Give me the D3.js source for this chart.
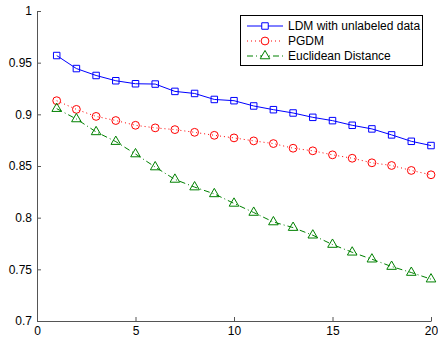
<!DOCTYPE html>
<html>
<head>
<meta charset="utf-8">
<script src="https://cdn.jsdelivr.net/npm/d3@7"></script>
<style>
  body { margin: 0; background: #fff; }
  text { font-family: "Liberation Sans", Arial, sans-serif; font-size: 12px; fill: #000; }
</style>
</head>
<body>
<svg width="438" height="340"></svg>
<script>
// data
const xs = d3.range(1, 21);
const ldm = [0.9569, 0.9443, 0.9376, 0.9325, 0.9296, 0.9293, 0.9222, 0.9202, 0.9144, 0.9132,
             0.9081, 0.9045, 0.9013, 0.8971, 0.8939, 0.8894, 0.8859, 0.8801, 0.8739, 0.8698];
const pgdm = [0.9132, 0.9048, 0.898, 0.894, 0.8894, 0.8869, 0.8852, 0.8826, 0.8797, 0.8772,
              0.8743, 0.8717, 0.8672, 0.8647, 0.8608, 0.8575, 0.8531, 0.8505, 0.8457, 0.8415];
const eucl = [0.9055, 0.8955, 0.883, 0.8736, 0.8616, 0.849, 0.837, 0.8296, 0.823, 0.8138,
              0.805, 0.7958, 0.7904, 0.783, 0.774, 0.7665, 0.7598, 0.7527, 0.7469, 0.7405];
const seriesNames = ['LDM with unlabeled data', 'PGDM', 'Euclidean Distance'];
const xTicks = [0, 5, 10, 15, 20];
const yTicks = [0.7, 0.75, 0.8, 0.85, 0.9, 0.95, 1];

const svg = d3.select('svg');

const x = d3.scaleLinear().domain([0, 20]).range([37, 431]);
const y = d3.scaleLinear().domain([0.7, 1]).range([321, 11]);

// axes: left and bottom only, ticks point inward
const xAxis = svg.append('g')
  .attr('transform', `translate(0,${y(0.7)})`)
  .call(d3.axisBottom(x).tickValues(xTicks).tickFormat(d3.format('d')).tickSizeInner(-4).tickSizeOuter(0));
const yAxis = svg.append('g')
  .attr('transform', `translate(${x(0)},0)`)
  .call(d3.axisLeft(y).tickValues(yTicks).tickFormat(d => String(d)).tickSizeInner(-4).tickSizeOuter(0));

[xAxis, yAxis].forEach(a => {
  a.select('.domain').attr('stroke', '#555').attr('stroke-width', 1);
  a.selectAll('.tick line').attr('stroke', '#555');
  a.selectAll('text').attr('font-family', '"Liberation Sans", Arial, sans-serif').attr('font-size', 12).attr('fill', '#000');
});
xAxis.selectAll('text').attr('y', 5).attr('dy', '0.71em');
yAxis.selectAll('text').attr('x', -5);

const series = [
  { name: seriesNames[0], values: ldm, color: '#0000ff', dash: null, marker: 'square' },
  { name: seriesNames[1], values: pgdm, color: '#ff0000', dash: '1,3', marker: 'circle' },
  { name: seriesNames[2], values: eucl, color: '#008000', dash: '6,3,1,3', marker: 'triangle' }
];

const line = d3.line().x((d, i) => x(xs[i])).y(d => y(d));

const symbolFor = m => m === 'square' ? d3.symbol().type(d3.symbolSquare).size(42)
  : m === 'circle' ? d3.symbol().type(d3.symbolCircle).size(48)
  : d3.symbol().type(d3.symbolTriangle).size(40);

series.forEach(s => {
  svg.append('path')
    .attr('d', line(s.values))
    .attr('fill', 'none')
    .attr('stroke', s.color)
    .attr('stroke-width', 1)
    .attr('stroke-dasharray', s.dash);
  svg.append('g').selectAll('path')
    .data(s.values)
    .join('path')
    .attr('transform', (d, i) => `translate(${x(xs[i])},${y(d)})`)
    .attr('d', symbolFor(s.marker)())
    .attr('fill', 'none')
    .attr('stroke', s.color)
    .attr('stroke-width', 1);
});

// legend
const legend = svg.append('g');
legend.append('rect')
  .attr('x', 240.5).attr('y', 15.5).attr('width', 182).attr('height', 50)
  .attr('fill', '#fff').attr('stroke', '#000').attr('stroke-width', 1);
series.forEach((s, i) => {
  const ly = 26 + i * 15;
  legend.append('line')
    .attr('x1', 247).attr('x2', 283).attr('y1', ly).attr('y2', ly)
    .attr('stroke', s.color).attr('stroke-dasharray', s.dash);
  legend.append('path')
    .attr('transform', `translate(265,${ly})`)
    .attr('d', symbolFor(s.marker)())
    .attr('fill', '#fff').attr('stroke', s.color);
  legend.append('text')
    .attr('x', 288).attr('y', ly).attr('dy', '0.35em')
    .text(s.name);
});
</script>
</body>
</html>
